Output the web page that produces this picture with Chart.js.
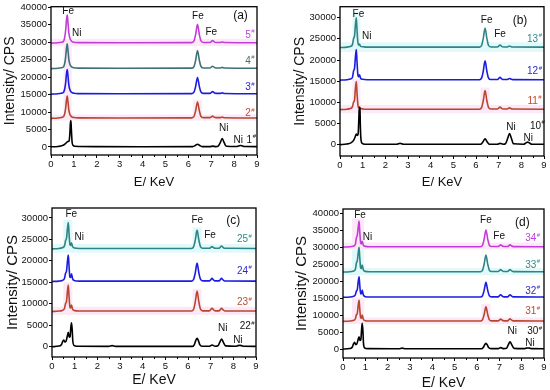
<!DOCTYPE html>
<html><head><meta charset="utf-8">
<script src="https://cdn.jsdelivr.net/npm/chart.js@4/dist/chart.umd.min.js"></script>
<style>
html,body{margin:0;padding:0;background:#fff;}
#wrap{position:relative;width:550px;height:390px;background:#fff;overflow:hidden;}
.p{position:absolute;width:275px;height:195px;}
</style></head><body>
<div id="wrap">
<div class="p" style="left:0;top:0"><canvas id="ca" width="275" height="195"></canvas></div>
<div class="p" style="left:275px;top:0"><canvas id="cb" width="275" height="195"></canvas></div>
<div class="p" style="left:0;top:195px"><canvas id="cc" width="275" height="195"></canvas></div>
<div class="p" style="left:275px;top:195px"><canvas id="cd" width="275" height="195"></canvas></div>
</div>
<script>
// ---------- DATA ----------
const xTicks = [0,1,2,3,4,5,6,7,8,9];
const xMinor = [0.5,1.5,2.5,3.5,4.5,5.5,6.5,7.5,8.5];
const yTicks40 = [0,5000,10000,15000,20000,25000,30000,35000,40000];
const yTicks30 = [0,5000,10000,15000,20000,25000,30000];

// Panel (a)
const a1 = [[0,50],[0.3,150],[0.5,400],[0.62,900],[0.7,1400],[0.75,1600],[0.79,1700],[0.82,3500],[0.85,7000],[0.87,7600],[0.89,5000],[0.92,1500],[0.96,500],[1.05,200],[2,100],[4,80],[6.2,100],[6.3,400],[6.4,800],[6.5,400],[6.6,100],[6.95,100],[7.06,250],[7.2,100],[7.3,200],[7.4,1300],[7.48,2400],[7.56,1300],[7.66,200],[8.1,120],[8.2,300],[8.28,420],[8.36,300],[8.46,120],[9,100]];
const a2 = [[0,8200],[0.3,8300],[0.45,8450],[0.55,8750],[0.6,9600],[0.64,11150],[0.68,13650],[0.71,14600],[0.74,13050],[0.78,10550],[0.83,9300],[0.9,8650],[1.0,8450],[1.2,8350],[3,8300],[6.15,8350],[6.25,8800],[6.32,10400],[6.4,12900],[6.48,10400],[6.55,8800],[6.65,8400],[6.95,8400],[7.0,8600],[7.06,8850],[7.12,8600],[7.2,8400],[7.38,8400],[7.48,8550],[7.58,8380],[9,8300]];
const a3 = [[0,15150],[0.3,15250],[0.45,15400],[0.55,15700],[0.6,16680],[0.64,18400],[0.68,21150],[0.71,22200],[0.74,20480],[0.78,17720],[0.83,16340],[0.9,15650],[1.0,15400],[1.2,15300],[3,15250],[6.15,15300],[6.25,15760],[6.32,17370],[6.4,19900],[6.48,17370],[6.55,15760],[6.65,15350],[6.95,15350],[7.0,15600],[7.06,15900],[7.12,15600],[7.2,15350],[7.38,15350],[7.48,15500],[7.58,15330],[9,15250]];
const a4 = [[0,22450],[0.3,22550],[0.45,22700],[0.55,23000],[0.6,24000],[0.64,25750],[0.68,28550],[0.71,29600],[0.74,27850],[0.78,25050],[0.83,23650],[0.9,22950],[1.0,22700],[1.2,22600],[3,22550],[6.15,22600],[6.25,23100],[6.32,24870],[6.4,27650],[6.48,24870],[6.55,23100],[6.65,22650],[6.95,22650],[7.0,22880],[7.06,23150],[7.12,22880],[7.2,22650],[7.38,22650],[7.48,22800],[7.58,22630],[9,22550]];
const a5 = [[0,29750],[0.3,29850],[0.45,30000],[0.55,30300],[0.6,31480],[0.64,33450],[0.68,36620],[0.71,37800],[0.74,35830],[0.78,32670],[0.83,31090],[0.9,30300],[1.0,30000],[1.2,29900],[3,29850],[6.15,29900],[6.25,30430],[6.32,32260],[6.4,35150],[6.48,32260],[6.55,30430],[6.65,29950],[6.95,29950],[7.0,30200],[7.06,30500],[7.12,30200],[7.2,29950],[7.38,29950],[7.48,30100],[7.58,29930],[9,29850]];

// Panel (b)
const b10 = [[0,0],[0.3,150],[0.5,500],[0.62,1200],[0.68,2000],[0.72,2500],[0.76,2200],[0.8,2500],[0.83,6000],[0.85,8800],[0.88,8500],[0.9,4000],[0.93,1000],[0.98,300],[1.1,100],[2.5,80],[2.65,300],[2.8,80],[6.2,80],[6.3,600],[6.4,1400],[6.5,600],[6.6,100],[6.95,100],[7.06,300],[7.2,100],[7.3,200],[7.4,1500],[7.48,2650],[7.56,1500],[7.66,200],[8.1,100],[8.2,400],[8.28,600],[8.36,400],[8.46,100],[9,80]];
const b11 = [[0,8290],[0.3,8380],[0.45,8530],[0.55,8980],[0.6,10080],[0.64,10500],[0.68,13270],[0.72,14900],[0.75,12290],[0.79,9360],[0.82,8750],[0.86,8900],[0.91,8540],[1.0,8450],[1.2,8380],[6.15,8380],[6.25,8820],[6.32,10370],[6.4,12800],[6.48,10370],[6.55,8820],[6.65,8430],[6.95,8430],[7.0,8640],[7.06,8900],[7.12,8640],[7.2,8430],[7.38,8430],[7.42,8540],[7.48,8700],[7.54,8540],[7.62,8410],[9,8380]];
const b12 = [[0,15250],[0.3,15340],[0.45,15490],[0.55,15940],[0.6,17470],[0.64,18000],[0.68,20710],[0.72,22500],[0.75,19640],[0.79,16410],[0.82,16000],[0.86,16500],[0.91,15690],[1.0,15440],[1.2,15340],[6.15,15340],[6.25,15790],[6.32,17350],[6.4,19800],[6.48,17350],[6.55,15790],[6.65,15390],[6.95,15390],[7.0,15620],[7.06,15900],[7.12,15620],[7.2,15390],[7.38,15390],[7.42,15500],[7.48,15650],[7.54,15500],[7.62,15370],[9,15340]];
const b13 = [[0,22950],[0.3,23040],[0.45,23190],[0.55,23640],[0.6,25120],[0.64,25640],[0.68,28260],[0.72,30000],[0.75,27220],[0.79,24080],[0.82,23500],[0.86,23750],[0.91,23240],[1.0,23140],[1.2,23040],[6.15,23040],[6.25,23490],[6.32,25070],[6.4,27550],[6.48,25070],[6.55,23490],[6.65,23090],[6.95,23090],[7.0,23300],[7.06,23550],[7.12,23300],[7.2,23090],[7.38,23090],[7.42,23170],[7.48,23300],[7.54,23170],[7.62,23070],[9,23040]];

// Panel (c)
const c22 = [[0,0],[0.3,150],[0.42,500],[0.47,1200],[0.52,1560],[0.57,1100],[0.62,1300],[0.67,2300],[0.72,3350],[0.76,2200],[0.8,2400],[0.83,4500],[0.86,5580],[0.89,4000],[0.92,1200],[0.97,300],[1.1,100],[2.5,80],[2.65,250],[2.8,80],[6.2,80],[6.28,500],[6.34,1400],[6.4,1950],[6.46,1400],[6.52,500],[6.62,100],[6.95,100],[7.06,400],[7.2,100],[7.32,200],[7.4,1000],[7.48,1800],[7.56,1000],[7.66,200],[8.1,100],[8.2,250],[8.28,300],[8.36,250],[8.46,100],[9,80]];
const c23 = [[0,8210],[0.3,8300],[0.45,8450],[0.55,8900],[0.6,10060],[0.64,10500],[0.68,12840],[0.72,14350],[0.75,11930],[0.79,9210],[0.82,9000],[0.86,9700],[0.91,8720],[1.0,8400],[1.2,8300],[6.15,8300],[6.25,8770],[6.32,10390],[6.4,12950],[6.48,10390],[6.55,8770],[6.65,8350],[6.95,8350],[7.0,8630],[7.06,8950],[7.12,8630],[7.2,8350],[7.38,8350],[7.42,8630],[7.48,8950],[7.54,8630],[7.62,8330],[9,8300]];
const c24 = [[0,15190],[0.3,15280],[0.45,15430],[0.55,15880],[0.6,17140],[0.64,17600],[0.68,19820],[0.72,21330],[0.75,18910],[0.79,16190],[0.82,16100],[0.86,17000],[0.91,15800],[1.0,15380],[1.2,15280],[6.15,15280],[6.25,15700],[6.32,17160],[6.4,19460],[6.48,17160],[6.55,15700],[6.65,15330],[6.95,15330],[7.0,15590],[7.06,15900],[7.12,15590],[7.2,15330],[7.38,15330],[7.42,15590],[7.48,15900],[7.54,15590],[7.62,15310],[9,15280]];
const c25 = [[0,22790],[0.3,22880],[0.45,23030],[0.55,23480],[0.6,24740],[0.64,25200],[0.68,27420],[0.72,28930],[0.75,26510],[0.79,23790],[0.82,23600],[0.86,24200],[0.91,23280],[1.0,22980],[1.2,22880],[6.15,22880],[6.25,23310],[6.32,24800],[6.4,27140],[6.48,24800],[6.55,23310],[6.65,22930],[6.95,22930],[7.0,23090],[7.06,23300],[7.12,23090],[7.2,22930],[7.38,22930],[7.42,23170],[7.48,23450],[7.54,23170],[7.62,22910],[9,22880]];

// Panel (d)
const d30 = [[0,0],[0.3,150],[0.42,600],[0.47,1500],[0.52,1970],[0.57,1300],[0.62,1500],[0.67,2600],[0.72,3630],[0.76,2500],[0.8,2800],[0.83,5500],[0.86,7570],[0.89,5500],[0.92,1500],[0.97,300],[1.1,100],[2.5,80],[2.65,250],[2.8,80],[6.2,80],[6.28,450],[6.34,1200],[6.4,1680],[6.46,1200],[6.52,450],[6.62,100],[6.95,100],[7.06,400],[7.2,100],[7.32,200],[7.4,1200],[7.48,2160],[7.56,1200],[7.66,200],[8.1,100],[8.2,250],[8.28,300],[8.36,250],[8.46,100],[9,80]];
const d31 = [[0,8160],[0.3,8250],[0.45,8400],[0.55,8850],[0.6,10050],[0.64,10500],[0.68,12830],[0.72,14350],[0.75,11910],[0.79,9170],[0.82,9100],[0.86,10000],[0.91,8780],[1.0,8350],[1.2,8250],[6.15,8250],[6.25,8670],[6.32,10150],[6.4,12470],[6.48,10150],[6.55,8670],[6.65,8300],[6.95,8300],[7.0,8530],[7.06,8800],[7.12,8530],[7.2,8300],[7.38,8300],[7.42,8580],[7.48,8900],[7.54,8580],[7.62,8280],[9,8250]];
const d32 = [[0,15240],[0.3,15330],[0.45,15480],[0.55,15930],[0.6,17070],[0.64,17500],[0.68,19820],[0.72,21320],[0.75,18920],[0.79,16230],[0.82,16300],[0.86,17400],[0.91,15950],[1.0,15430],[1.2,15330],[6.15,15330],[6.25,15760],[6.32,17270],[6.4,19650],[6.48,17270],[6.55,15760],[6.65,15380],[6.95,15380],[7.0,15670],[7.06,16000],[7.12,15670],[7.2,15380],[7.38,15380],[7.42,15670],[7.48,16000],[7.54,15670],[7.62,15360],[9,15330]];
const d33 = [[0,22690],[0.3,22780],[0.45,22930],[0.55,23380],[0.6,25360],[0.64,26000],[0.68,28170],[0.72,29970],[0.75,27090],[0.79,23860],[0.82,23700],[0.86,24770],[0.91,23380],[1.0,22880],[1.2,22780],[6.15,22780],[6.25,23270],[6.32,24990],[6.4,27700],[6.48,24990],[6.55,23270],[6.65,22830],[6.95,22830],[7.0,23090],[7.06,23400],[7.12,23090],[7.2,22830],[7.38,22830],[7.42,23090],[7.48,23400],[7.54,23090],[7.62,22810],[9,22780]];
const d34 = [[0,30060],[0.3,30150],[0.45,30300],[0.55,30750],[0.6,32830],[0.64,33500],[0.68,35830],[0.72,37720],[0.75,34690],[0.79,31290],[0.82,31000],[0.86,31780],[0.91,30640],[1.0,30250],[1.2,30150],[6.15,30150],[6.25,30640],[6.32,32360],[6.4,35070],[6.48,32360],[6.55,30640],[6.65,30200],[6.95,30200],[7.0,30430],[7.06,30700],[7.12,30430],[7.2,30200],[7.38,30200],[7.42,30430],[7.48,30700],[7.54,30430],[7.62,30180],[9,30150]];

// Text labels: [text, superscript, x(keV), y(CPS), colour, size]
const labelsA = [["Fe","",0.75,39000,"#111",10],["Ni","",1.12,32500,"#111",10],["Fe","",6.42,37600,"#111",10],["Fe","",7.0,32900,"#111",10],["(a)","",8.28,37600,"#111",12],
  ["5","#",8.68,32100,"#c040e0",10],["4","#",8.68,24600,"#4d6d70",10],["3","#",8.68,17000,"#2a2ad0",10],["2","#",8.68,9600,"#c04a30",10],
  ["Ni","",7.55,5300,"#111",10],["Ni","",8.18,2000,"#111",10],["1","#",8.74,2000,"#111",10]];
const labelsB = [["Fe","",0.81,30900,"#111",10],["Ni","",1.18,25650,"#111",10],["Fe","",6.47,29400,"#111",10],["Fe","",7.06,26000,"#111",10],["(b)","",7.94,29400,"#111",12],
  ["13","#",8.57,25000,"#2e8a8c",10],["12","#",8.57,17240,"#2a2ad0",10],["11","#",8.57,10300,"#c04a30",10],["10","#",8.7,4420,"#111",10],
  ["Ni","",7.54,4030,"#111",10],["Ni","",8.3,1600,"#111",10]];
const labelsC = [["Fe","",0.85,30860,"#111",10],["Ni","",1.2,25580,"#111",10],["Fe","",6.41,29460,"#111",10],["Fe","",6.97,25970,"#111",10],["(c)","",8.0,29230,"#111",12],
  ["25","#",8.48,25000,"#2e8a8c",10],["24","#",8.48,17600,"#2a2ad0",10],["23","#",8.48,10300,"#c04a30",10],["22","#",8.6,4650,"#111",10],
  ["Ni","",7.53,4280,"#111",10],["Ni","",8.2,1560,"#111",10]];
const labelsD = [["Fe","",0.76,39490,"#111",10],["Ni","",1.1,32920,"#111",10],["Fe","",6.4,37810,"#111",10],["Fe","",6.99,33300,"#111",10],["(d)","",8.03,37340,"#111",12],
  ["34","#",8.48,32620,"#c040e0",10],["33","#",8.48,24760,"#2e8a8c",10],["32","#",8.48,17100,"#2a2ad0",10],["31","#",8.48,11000,"#c04a30",10],
  ["Ni","",7.58,5100,"#111",10],["30","#",8.57,5100,"#111",10],["Ni","",8.37,1680,"#111",10]];

// Faint highlight bands seen behind some spectra: [x0, x1, y0, y1, kind]
const bandsA = [[0,9,28900,31000,"p"],[0,9,7600,9300,"p"],[0.55,0.9,9300,28900,"p"],[6.2,6.6,9300,13500,"p"]];
const bandsB = [[0,9,21900,24200,"c"],[0.55,0.9,24200,31500,"c"],[0,9,7400,9400,"p"],[0.55,0.9,9400,15500,"p"],[6.2,6.6,9400,13500,"p"]];
const bandsC = [[0,9,21900,23900,"c"],[0.5,0.9,23900,29500,"c"],[6.2,6.6,23900,27800,"c"],[0,9,7400,9300,"p"],[0.5,0.9,9300,15000,"p"],[6.2,6.6,9300,13500,"p"]];
const bandsD = [[0,9,29300,31400,"p"],[0.4,0.95,31400,38500,"p"],[0,9,21800,23900,"c"],[0.4,0.95,23900,29300,"c"],[0,9,7300,9300,"p"],[0.4,0.95,9300,15000,"p"],[6.2,6.6,9300,13300,"p"]];

// ---------- RENDER ----------
const FONT = 'Arial, "Liberation Sans", sans-serif';
const BAND = {p: 'rgba(250,215,240,0.55)', c: 'rgba(205,245,245,0.6)'};

const framePlugin = {
  id: 'frame',
  beforeDatasetsDraw(chart) {
    const {ctx, chartArea: a, scales: {x: xs, y: ys}} = chart;
    const bands = chart.options.plugins.frame.bands || [];
    ctx.save();
    ctx.beginPath(); ctx.rect(a.left, a.top, a.right - a.left, a.bottom - a.top); ctx.clip();
    bands.forEach(([x0, x1, y0, y1, k]) => {
      const px0 = xs.getPixelForValue(x0), px1 = xs.getPixelForValue(x1);
      const py0 = ys.getPixelForValue(y1), py1 = ys.getPixelForValue(y0);
      ctx.fillStyle = BAND[k];
      ctx.fillRect(px0, py0, px1 - px0, py1 - py0);
    });
    ctx.restore();
  },
  afterDatasetsDraw(chart) {
    const {ctx, chartArea: a, scales} = chart;
    ctx.save();
    ctx.strokeStyle = '#000'; ctx.lineWidth = 1;
    const xs = scales.x;
    xMinor.forEach(v => {
      const px = Math.round(xs.getPixelForValue(v)) + 0.5;
      ctx.beginPath(); ctx.moveTo(px, a.bottom); ctx.lineTo(px, a.bottom + 2); ctx.stroke();
    });
    ctx.lineWidth = 1.3;
    ctx.strokeRect(a.left, a.top, a.right - a.left, a.bottom - a.top);
    const labs = chart.options.plugins.frame.labels || [];
    const ys = scales.y;
    labs.forEach(([t, s, x, y, c, f]) => {
      const px = xs.getPixelForValue(x), py = ys.getPixelForValue(y);
      ctx.font = f + 'px ' + FONT;
      ctx.fillStyle = c;
      ctx.textBaseline = 'middle';
      const w1 = ctx.measureText(t).width;
      ctx.font = Math.round(f * 0.6) + 'px ' + FONT;
      const w2 = s ? ctx.measureText(s).width : 0;
      const x0 = px - (w1 + w2) / 2;
      ctx.font = f + 'px ' + FONT;
      ctx.textAlign = 'left';
      ctx.fillText(t, x0, py);
      if (s) {
        ctx.font = Math.round(f * 0.6) + 'px ' + FONT;
        ctx.fillText(s, x0 + w1 + 0.5, py - f * 0.35);
      }
    });
    ctx.restore();
  }
};

function makeChart(id, cfg) {
  const ds = cfg.series.map(([d, col]) => ({
    data: d.map(p => ({x: p[0], y: p[1]})),
    borderColor: col, borderWidth: 1.6, pointRadius: 0, showLine: true, fill: false,
    cubicInterpolationMode: 'monotone'
  }));
  new Chart(document.getElementById(id), {
    type: 'scatter',
    data: {datasets: ds},
    plugins: [framePlugin],
    options: {
      responsive: false, animation: false, devicePixelRatio: 1,
      layout: {padding: {top: cfg.top, right: 275 - cfg.right, left: 0, bottom: 0}},
      plugins: {legend: {display: false}, tooltip: {enabled: false}, frame: {labels: cfg.labels, bands: cfg.bands}},
      scales: {
        x: {
          type: 'linear', min: 0, max: 9,
          afterBuildTicks: s => { s.ticks = xTicks.map(v => ({value: v})); },
          afterFit: s => { s.height = 195 - cfg.bottom; },
          grid: {display: true, drawOnChartArea: false, drawTicks: true, tickLength: 3, color: '#000', lineWidth: 1},
          border: {display: false},
          ticks: {color: '#111', font: {family: FONT, size: cfg.tickSize}, padding: 1, maxRotation: 0, callback: v => String(v)},
          title: {display: true, text: 'E/ KeV', color: '#111', font: {family: FONT, size: cfg.xtSize, lineHeight: 1}, padding: {top: 0, bottom: cfg.xtPad}}
        },
        y: {
          type: 'linear', min: cfg.ymin, max: cfg.ymax,
          afterBuildTicks: s => { s.ticks = cfg.yTicks.map(v => ({value: v})); },
          afterFit: s => { s.width = cfg.left; },
          grid: {display: true, drawOnChartArea: false, drawTicks: true, tickLength: 3, color: '#000', lineWidth: 1},
          border: {display: false},
          ticks: {color: '#111', font: {family: FONT, size: cfg.tickSize}, padding: 1, callback: v => String(v)},
          title: {display: true, text: 'Intensity/ CPS', color: '#111', font: {family: FONT, size: cfg.ytSize, lineHeight: 1}, padding: {top: cfg.ytPad, bottom: 0}}
        }
      }
    }
  });
}

const BLK = '#000', RED = '#b8452e', BLU = '#1c1ce0', TEAL = '#3f7277', TEAL2 = '#2e8486', MAG = '#c43cd6';

makeChart('ca', {series: [[a1,BLK],[a2,RED],[a3,BLU],[a4,TEAL],[a5,MAG]], labels: labelsA, bands: bandsA,
  left: 51, right: 257, top: 6, bottom: 155, ymin: -2300, ymax: 40200, yTicks: yTicks40,
  tickSize: 9.5, xtSize: 13, ytSize: 14, xtPad: 6.5, ytPad: 3});
makeChart('cb', {series: [[b10,BLK],[b11,RED],[b12,BLU],[b13,TEAL2]], labels: labelsB, bands: bandsB,
  left: 65, right: 269, top: 2, bottom: 156, ymin: -2680, ymax: 32600, yTicks: yTicks30,
  tickSize: 9.5, xtSize: 13, ytSize: 14, xtPad: 6.5, ytPad: 18});
makeChart('cc', {series: [[c22,BLK],[c23,RED],[c24,BLU],[c25,TEAL2]], labels: labelsC, bands: bandsC,
  left: 52, right: 256, top: 13, bottom: 162, ymin: -2400, ymax: 32300, yTicks: yTicks30,
  tickSize: 9.5, xtSize: 14, ytSize: 15, xtPad: 3, ytPad: 5.5});
makeChart('cd', {series: [[d30,BLK],[d31,RED],[d32,BLU],[d33,TEAL2],[d34,MAG]], labels: labelsD, bands: bandsD,
  left: 68, right: 269, top: 14, bottom: 163, ymin: -2650, ymax: 41270, yTicks: yTicks40,
  tickSize: 9.5, xtSize: 14, ytSize: 15, xtPad: 0, ytPad: 19.5});
</script>
</body></html>
